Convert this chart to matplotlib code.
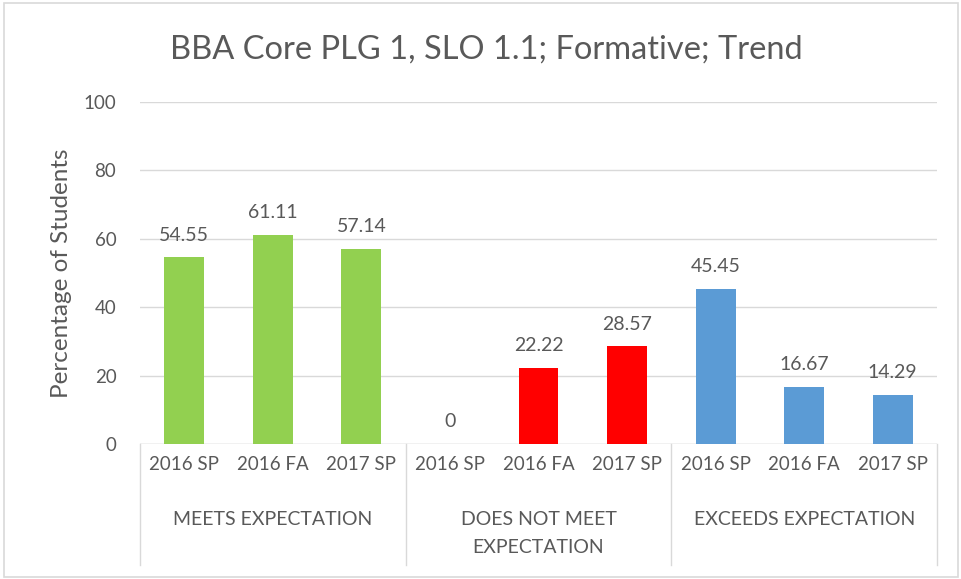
import numpy as np
import matplotlib.pyplot as plt
from matplotlib.patches import Rectangle

plt.rcParams['font.family'] = ['Lato', 'DejaVu Sans']

terms = ['2016 SP', '2016 FA', '2017 SP']
groups = ['MEETS EXPECTATION', 'DOES NOT MEET\nEXPECTATION', 'EXCEEDS EXPECTATION']
meets = [54.55, 61.11, 57.14]
not_meet = [0, 22.22, 28.57]
exceeds = [45.45, 16.67, 14.29]
colors = ['#92D050', '#FF0000', '#5B9BD5']

txt = '#595959'
fig = plt.figure(figsize=(9.62, 5.79), dpi=100)
ax = fig.add_axes([0.1455, 0.2332, 0.8285, 0.5906])

series = [meets, not_meet, exceeds]
x = np.arange(9)
for g, (vals, c) in enumerate(zip(series, colors)):
    xs = x[g * 3:(g + 1) * 3]
    ax.bar(xs, vals, width=0.45, color=c, zorder=3)
    for xi, v in zip(xs, vals):
        ax.text(xi, v + 4, f'{v:g}' if v == 0 else f'{v:.2f}', ha='center', va='bottom',
                fontsize=14, color=txt)

ax.set_xlim(-0.5, 8.5)
ax.set_ylim(0, 100)
ax.set_yticks(range(0, 101, 20))
ax.yaxis.grid(True, color='#D9D9D9', lw=1)
ax.set_axisbelow(True)
for s in ax.spines.values():
    s.set_visible(False)
ax.tick_params(axis='y', length=0, labelsize=13.5, labelcolor=txt, pad=17)
ax.tick_params(axis='x', length=0, labelsize=13.5, labelcolor=txt, pad=9)
ax.set_xticks(x)
ax.set_xticklabels(terms * 3)
ax.set_ylabel('Percentage of Students', fontsize=17.5, color=txt, labelpad=8)
fig.text(0.506, 0.915, 'BBA Core PLG 1, SLO 1.1; Formative; Trend', fontsize=23.5,
         color=txt, ha='center', va='center')

ax.axhline(0, color='#D9D9D9', lw=1, zorder=2)
trans = ax.get_xaxis_transform()
for b in [-0.5, 2.5, 5.5, 8.5]:
    ax.plot([b, b], [0, -0.354], color='#D9D9D9', lw=1, transform=trans, clip_on=False)
for g, name in enumerate(groups):
    ax.text(g * 3 + 1, -0.197, name, transform=trans, ha='center', va='top',
            fontsize=14, color=txt, linespacing=1.75)

fig.patches.append(Rectangle((0.004, 0.004), 0.992, 0.99, transform=fig.transFigure,
                             fill=False, edgecolor='#D9D9D9', lw=1.2))
fig.savefig('out.png')
